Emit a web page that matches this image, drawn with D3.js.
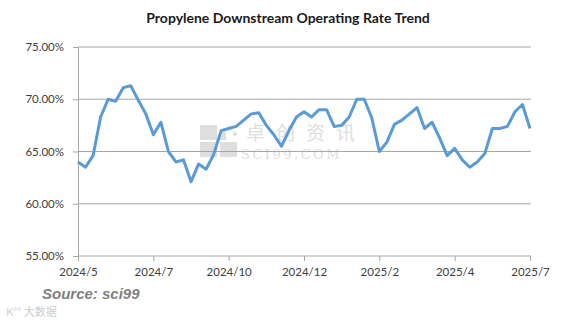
<!DOCTYPE html>
<html>
<head>
<meta charset="utf-8">
<script src="https://cdn.jsdelivr.net/npm/d3@7"></script>
<style>
  body { margin: 0; background: #fff; }
  svg { display: block; }
</style>
</head>
<body>
<div id="chart"></div>
<script>
const svgw = 583
const svgh = 323

// weekly operating rate, %
const rates = [
  64.0, 63.5, 64.6, 68.3, 70.0, 69.8, 71.1, 71.3, 69.9, 68.6,
  66.6, 67.8, 65.0, 64.0, 64.2, 62.1, 63.8, 63.3, 64.7, 67.0,
  67.2, 67.4, 68.0, 68.6, 68.7, 67.5, 66.6, 65.5, 67.0, 68.3,
  68.8, 68.3, 69.0, 69.0, 67.4, 67.5, 68.3, 70.0, 70.0, 68.2,
  65.0, 65.9, 67.6, 68.0, 68.6, 69.2, 67.2, 67.8, 66.3, 64.6,
  65.3, 64.2, 63.5, 64.0, 64.8, 67.2, 67.2, 67.4, 68.8, 69.5,
  67.2
]
const tickIndex = [0, 10, 20, 30, 40, 50, 60]
const tickLabels = ['2024/5', '2024/7', '2024/10', '2024/12', '2025/2', '2025/4', '2025/7']
const yTicks = [55, 60, 65, 70, 75]

const plotLeft = 78, plotRight = 531, plotTop = 47, plotBottom = 256

const svg = d3.select('#chart')
  .append('svg')
  .attr('width', svgw)
  .attr('height', svgh)

const x = d3.scaleLinear().domain([0, rates.length - 1]).range([plotLeft, 530])
const y = d3.scaleLinear().domain([55, 75]).range([plotBottom, plotTop])

svg.append('text')
  .attr('x', 288)
  .attr('y', 23)
  .attr('text-anchor', 'middle')
  .attr('font-family', 'Lato, sans-serif')
  .attr('font-weight', 'bold')
  .attr('font-size', 14)
  .attr('fill', '#1a1a1a')
  .text('Propylene Downstream Operating Rate Trend')

// watermark
const wm = svg.append('g').attr('opacity', 0.75)
;[[200, 125], [220, 125], [200, 142], [220, 142]].forEach(p => {
  if (p[0] === 220 && p[1] === 125) {
    wm.append('rect').attr('x', p[0]).attr('y', p[1] + 6).attr('width', 6).attr('height', 9).attr('fill', '#d4d4d4')
    wm.append('circle').attr('cx', p[0] + 10).attr('cy', p[1] + 3).attr('r', 2).attr('fill', '#d4d4d4')
    wm.append('circle').attr('cx', p[0] + 15).attr('cy', p[1] + 9).attr('r', 2).attr('fill', '#d4d4d4')
  } else {
    wm.append('rect').attr('x', p[0]).attr('y', p[1]).attr('width', 17).attr('height', 15).attr('fill', '#d4d4d4')
  }
})
wm.append('text')
  .attr('x', 246).attr('y', 140)
  .attr('font-family', '"Noto Sans CJK SC", sans-serif')
  .attr('font-size', 19)
  .attr('letter-spacing', 11)
  .attr('fill', '#d4d4d4')
  .text('卓创资讯')
wm.append('text')
  .attr('x', 241).attr('y', 159)
  .attr('font-family', '"DejaVu Serif", serif')
  .attr('font-size', 13)
  .attr('letter-spacing', 2.5)
  .attr('fill', '#d4d4d4')
  .text('SCI99.COM')

// gridlines
svg.append('g')
  .selectAll('line')
  .data(yTicks.slice(1))
  .enter()
  .append('line')
  .attr('x1', plotLeft)
  .attr('x2', plotRight)
  .attr('y1', d => y(d))
  .attr('y2', d => y(d))
  .attr('stroke', '#a6a6a6')
  .attr('stroke-width', 1)

const yAxis = d3.axisLeft(y)
  .tickValues(yTicks)
  .tickFormat(d => d.toFixed(2) + '%')
  .tickSize(5)
  .tickPadding(9)

const xAxis = d3.axisBottom(x)
  .tickValues(tickIndex)
  .tickFormat((d, i) => tickLabels[i])
  .tickSize(5)
  .tickPadding(7)

const gy = svg.append('g')
  .attr('transform', `translate(${plotLeft},0)`)
  .call(yAxis)
const gx = svg.append('g')
  .attr('transform', `translate(0,${plotBottom})`)
  .call(xAxis)

gx.select('.domain').attr('d', `M${plotLeft},0H${plotRight}`)
;[gx, gy].forEach(g => {
  g.select('.domain').attr('stroke', '#a6a6a6')
  g.selectAll('.tick line').attr('stroke', '#a6a6a6')
  g.selectAll('.tick text')
    .attr('font-family', 'Lato, sans-serif')
    .attr('font-size', 11.5)
    .attr('fill', '#404040')
})

const line = d3.line()
  .x((d, i) => x(i))
  .y(d => y(d))

svg.append('path')
  .datum(rates)
  .attr('d', line)
  .attr('fill', 'none')
  .attr('stroke', '#5b9bd5')
  .attr('stroke-width', 3)
  .attr('stroke-linejoin', 'round')

svg.append('text')
  .attr('x', 42)
  .attr('y', 299)
  .attr('font-family', '"Liberation Sans", Arial, sans-serif')
  .attr('font-weight', 'bold')
  .attr('font-style', 'italic')
  .attr('font-size', 15)
  .attr('fill', '#7f7f7f')
  .text('Source: sci99')

svg.append('text')
  .attr('x', 6)
  .attr('y', 316)
  .attr('font-family', '"Noto Sans CJK SC", sans-serif')
  .attr('font-size', 11)
  .attr('fill', '#cccccc')
  .text('K°° 大数据')
</script>
</body>
</html>
